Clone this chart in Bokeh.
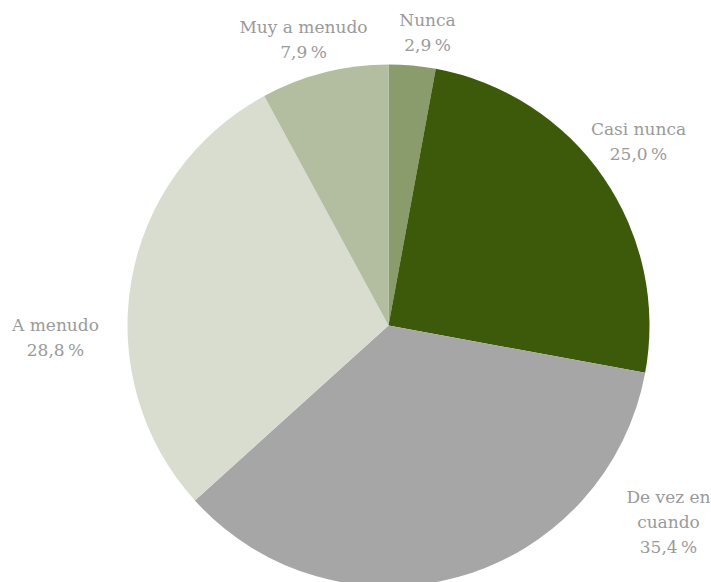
import math
from bokeh.plotting import figure
from bokeh.models import Range1d, ColumnDataSource
from bokeh.core.properties import value
from bokeh.embed import file_html
from bokeh.resources import INLINE

categories = ["Nunca", "Casi nunca", "De vez en cuando", "A menudo", "Muy a menudo"]
shares = [2.9, 25.0, 35.4, 28.8, 7.9]
label_texts = ["Nunca", "Casi nunca", "De vez en\ncuando", "A menudo", "Muy a menudo"]
colors = ["#8a9b6c", "#3d5a0b", "#a6a6a6", "#d8ddd0", "#b3bd9f"]

# layout (screen-pixel coordinates, y measured from the top)
W, H = 711, 582
CX, CY, R = 388, 325, 261
label_pos = [(427, 9), (638, 118), (668, 486), (55, 314), (303, 16)]

total = sum(shares)
starts, ends = [], []
acc = 0.0
for s in shares:
    starts.append(math.pi / 2 - acc / total * 2 * math.pi)
    acc += s
    ends.append(math.pi / 2 - acc / total * 2 * math.pi)

p = figure(width=W, height=H, x_range=Range1d(0, W), y_range=Range1d(0, H),
           output_backend="svg", toolbar_location=None, min_border=0)
p.axis.visible = False
p.grid.visible = False
p.outline_line_color = None
p.background_fill_color = "white"

src = ColumnDataSource(dict(start=starts, end=ends, color=colors, cat=categories))
p.wedge(x=CX, y=H - CY, radius=R, start_angle="start", end_angle="end",
        direction="clock", fill_color="color", line_color=None, source=src)

def fmt(v):
    return f"{v:.1f}".replace(".", ",") + "\u202f%"

texts = [f"{t}\n{fmt(s)}" for t, s in zip(label_texts, shares)]
lsrc = ColumnDataSource(dict(x=[q[0] for q in label_pos], y=[H - q[1] for q in label_pos], text=texts))
p.text(x="x", y="y", text="text", source=lsrc, text_align="center", text_baseline="top",
       text_font=value("DejaVu Serif"), text_font_size="17px", text_color="#9a9a9a",
       text_line_height=1.25)

open("out.html", "w").write(file_html(p, INLINE))
